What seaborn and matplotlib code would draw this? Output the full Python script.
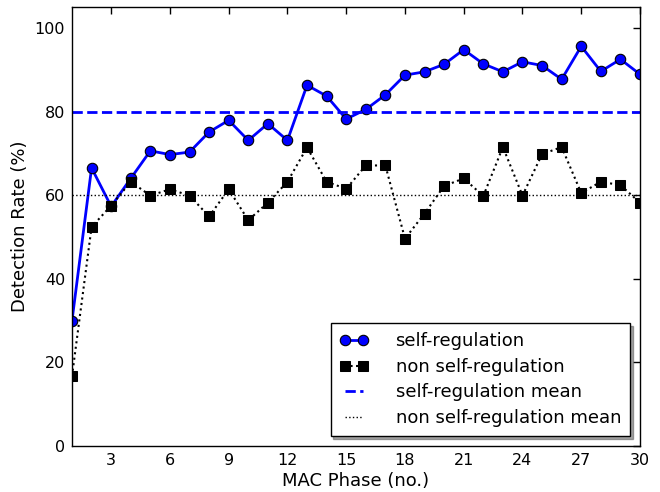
import numpy as np
import pandas as pd
import matplotlib
matplotlib.use("Agg")
import matplotlib.pyplot as plt
import seaborn as sns

# MAC phases 1..30
phases = list(range(1, 31))

# Detection rate (%) with self-regulation
self_reg = [30.0, 66.5, 57.3, 64.0, 70.6, 69.7, 70.3, 75.1, 77.9, 73.1,
            77.1, 73.1, 86.3, 83.7, 78.2, 80.5, 84.0, 88.7, 89.5, 91.3,
            94.8, 91.4, 89.5, 91.9, 91.0, 87.7, 95.6, 89.6, 92.5, 88.9]

# Detection rate (%) without self-regulation
non_self_reg = [16.7, 52.4, 57.5, 63.2, 59.9, 61.4, 59.9, 54.9, 61.4, 54.0,
                58.2, 63.2, 71.4, 63.2, 61.5, 67.1, 67.1, 49.6, 55.6, 62.2,
                64.0, 59.8, 71.5, 59.9, 69.8, 71.5, 60.5, 63.2, 62.4, 58.2]

x_ticks = [3, 6, 9, 12, 15, 18, 21, 24, 27, 30]
y_ticks = [0, 20, 40, 60, 80, 100]

df = pd.DataFrame({"phase": phases, "self": self_reg, "non": non_self_reg})

sns.set_style("white")
plt.rcParams["font.family"] = ["DejaVu Sans"]
plt.rcParams["text.color"] = "black"
plt.rcParams["axes.labelcolor"] = "black"
plt.rcParams["xtick.color"] = "black"
plt.rcParams["ytick.color"] = "black"

fig = plt.figure(figsize=(6.6, 4.92), dpi=100)
ax = fig.add_axes([72 / 660, 1 - 446 / 492, (640 - 72) / 660, (446 - 7) / 492])

sns.lineplot(data=df, x="phase", y="self", ax=ax, color="blue", linewidth=2,
             marker="o", markersize=7.5, markeredgecolor="black",
             markeredgewidth=0.8, label="self-regulation")
sns.lineplot(data=df, x="phase", y="non", ax=ax, color="black", linewidth=1.5,
             linestyle=":", marker="s", markersize=6.5, markeredgecolor="black",
             label="non self-regulation")

ax.axhline(np.mean(self_reg), color="blue", linestyle="--", linewidth=2,
           label="self-regulation mean")
ax.axhline(np.mean(non_self_reg), color="black", linestyle=":", linewidth=1,
           label="non self-regulation mean")

ax.set_xlim(1, 30)
ax.set_ylim(0, 105)
ax.set_xticks(x_ticks)
ax.set_yticks(y_ticks)
ax.tick_params(axis="both", which="both", direction="in", top=True, right=True,
               length=5, width=1, labelsize=11.5, pad=5, color="black",
               labelcolor="black")
for s in ax.spines.values():
    s.set_visible(True)
    s.set_color("black")
    s.set_linewidth(1)

ax.set_xlabel("MAC Phase (no.)", fontsize=13, labelpad=3, color="black")
ax.set_ylabel("Detection Rate (%)", fontsize=13, labelpad=4, color="black")

leg = ax.legend(loc="lower right", numpoints=2, fontsize=13, frameon=True,
                fancybox=False, shadow=True, borderaxespad=0.55,
                borderpad=0.5, handlelength=1.6, handletextpad=1.5,
                labelspacing=0.42)
leg.get_frame().set_edgecolor("black")
leg.get_frame().set_linewidth(1)
for t in leg.get_texts():
    t.set_color("black")

fig.savefig("out.png", dpi=100)
